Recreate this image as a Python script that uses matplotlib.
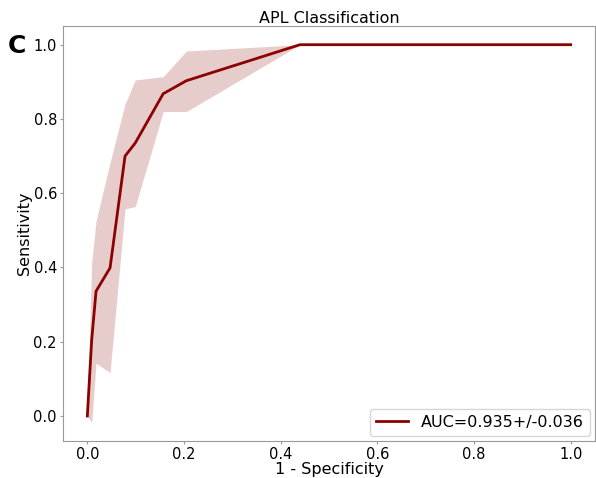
import matplotlib
matplotlib.use("Agg")
import matplotlib.pyplot as plt

# mean ROC curve and its +/- std band
fpr = [0.0, 0.009, 0.018, 0.047, 0.078, 0.099, 0.157, 0.205, 0.44, 1.0]
tpr_mean = [0.0, 0.205, 0.336, 0.399, 0.70, 0.735, 0.868, 0.903, 1.0, 1.0]
tpr_upper = [0.0, 0.413, 0.525, 0.683, 0.84, 0.905, 0.914, 0.983, 1.0, 1.0]
tpr_lower = [0.0, -0.017, 0.142, 0.117, 0.558, 0.564, 0.82, 0.82, 1.0, 1.0]
label = "AUC=0.935+/-0.036"

fig = plt.figure(figsize=(5.96, 4.78), dpi=100)
ax = fig.add_axes([0.106, 0.077, 0.892, 0.869])

ax.fill_between(fpr, tpr_lower, tpr_upper, color="darkred", alpha=0.2, linewidth=0)
ax.plot(fpr, tpr_mean, color="darkred", linewidth=2, label=label)

ax.set_title("APL Classification", fontsize=11.5, pad=2)
ax.set_xlabel("1 - Specificity", fontsize=11.5, labelpad=0)
ax.set_ylabel("Sensitivity", fontsize=11.5, labelpad=1)
ax.tick_params(labelsize=10.5, color="#999999", length=2.5, pad=2)
for s in ax.spines.values():
    s.set_color("#999999")

ax.legend(loc="lower right", fontsize=11.5, handlelength=2, borderaxespad=0.3)
fig.text(0.013, 0.889, "C", fontsize=18, fontweight="bold")

fig.savefig("out.png", dpi=100)
